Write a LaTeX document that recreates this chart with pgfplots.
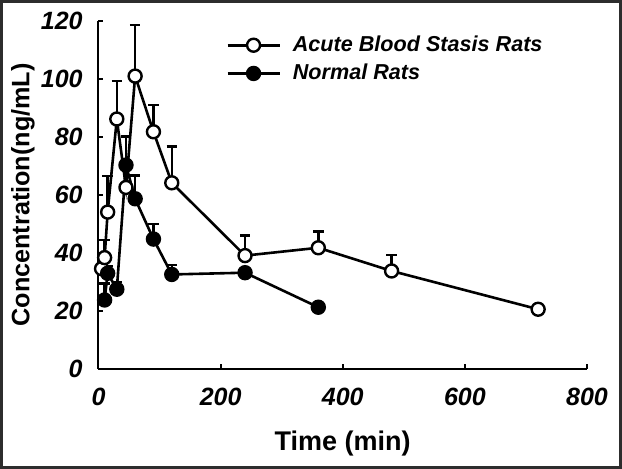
\documentclass[border=0pt]{standalone}
\usepackage{fontspec}
\setmainfont{Liberation Sans}
\usepackage{pgfplots}
\pgfplotsset{compat=1.18}
\definecolor{framegray}{RGB}{45,45,45}

\pgfplotstableread{
t c e
5 34.6 0
10 38.4 6.1
15 54.1 12.4
30 86.2 13.1
45 62.6 7
60 101 17.6
90 81.8 9.2
120 64.2 12.5
240 39.1 6.9
360 41.8 5.6
480 33.8 5.5
720 20.6 0
}\acute

\pgfplotstableread{
t c e
10 23.8 5.7
15 33.0 2.6
30 27.5 2.6
45 70.3 9.8
60 58.7 8
90 44.8 5.2
120 32.6 3.3
240 33.2 0
360 21.3 0
}\normal

\begin{document}
\begin{tikzpicture}
\useasboundingbox (-49.25pt,-50pt) rectangle (261.75pt,184.5pt);
\begin{axis}[
  at={(0pt,0pt)}, anchor=south west,
  scale only axis, width=244.25pt, height=174pt,
  xmin=0, xmax=800, ymin=0, ymax=120,
  clip=false,
  axis x line=bottom, axis y line=left,
  axis line style={-, line width=1pt},
  tick align=inside, major tick length=2.5pt,
  tick style={line width=1pt, black},
  xtick={0,200,...,800}, ytick={0,20,...,120},
  /pgf/number format/assume math mode=true,
  ticklabel style={font=\bfseries\itshape\fontsize{12.5}{14}\selectfont},
  xticklabel style={anchor=north, inner sep=0pt, yshift=-9.5pt},
  yticklabel style={anchor=east, inner sep=0pt, xshift=-7.75pt},
  xlabel={Time (min)},
  ylabel={Concentration(ng/mL)},
  xlabel style={font=\bfseries\fontsize{13.5}{15}\selectfont, at={(axis description cs:0.5,-0.2348)}, anchor=base},
  ylabel style={font=\bfseries\fontsize{12.6}{15}\selectfont, at={(axis description cs:-0.1545,0.5)}, anchor=center},
  legend style={draw=none, fill=none, at={(axis cs:208.6,115)}, anchor=north west,
    font=\bfseries\itshape\fontsize{10.8}{12}\selectfont, row sep=4.8pt, inner sep=0pt,
    nodes={inner sep=0pt}, column sep=6pt},
  legend cell align=left,
  legend image code/.code={\draw[mark repeat=2,mark phase=2,#1] plot coordinates {(0pt,0pt) (13pt,0pt) (26pt,0pt)};},
  every axis plot/.append style={black, line width=1.3pt, mark size=3.25pt},
]
\addplot[mark=*, mark options={fill=white, line width=1.2pt},
  error bars/.cd, y dir=plus, y explicit,
  error bar style={line width=1.2pt},
  error mark options={rotate=90, mark size=2.6pt, line width=1.2pt}]
  table[x=t, y=c, y error=e] {\acute};
\addlegendentry{Acute Blood Stasis Rats}
\addplot[mark=*, mark options={fill=black, line width=1.2pt},
  error bars/.cd, y dir=plus, y explicit,
  error bar style={line width=1.2pt},
  error mark options={rotate=90, mark size=2.6pt, line width=1.2pt}]
  table[x=t, y=c, y error=e] {\normal};
\addlegendentry{Normal Rats}
\end{axis}
\draw[framegray, line width=1.5pt] (-48.5pt,-49.25pt) rectangle (261pt,183.75pt);
\end{tikzpicture}
\end{document}
